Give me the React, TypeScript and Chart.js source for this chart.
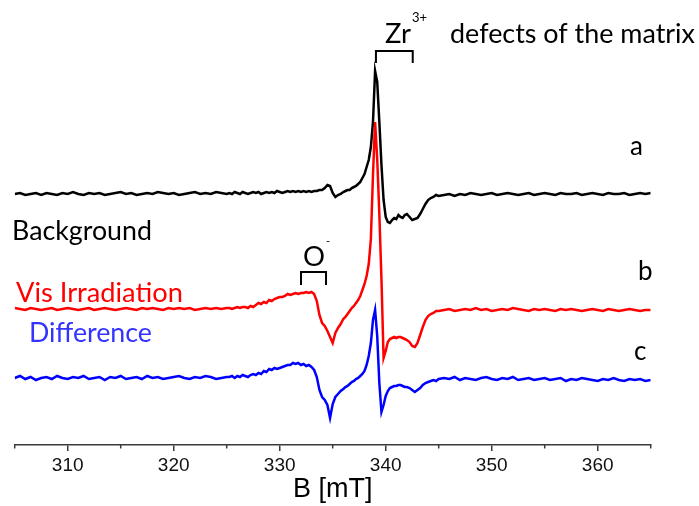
import { useEffect, useRef } from 'react';
import { Chart, registerables } from 'chart.js';

Chart.register(...registerables);

// Magnetic field B [mT]
const fieldB = [
  305, 305.5, 306, 306.5, 307, 307.5, 308, 308.5, 309, 309.5,
  310, 310.5, 311, 311.5, 312, 312.5, 313, 313.5, 314, 314.5,
  315, 315.5, 316, 316.5, 317, 317.5, 318, 318.5, 319, 319.5,
  320, 320.5, 321, 321.5, 322, 322.5, 323, 323.5, 324, 324.5,
  325,
  325.25, 325.5, 325.75, 326, 326.25, 326.5, 326.75, 327, 327.25, 327.5,
  327.75, 328, 328.25, 328.5, 328.75, 329, 329.25, 329.5, 329.75, 330,
  330.25, 330.5, 330.75, 331, 331.25, 331.5, 331.75, 332, 332.25, 332.5,
  332.75, 333, 333.25, 333.5, 333.75, 334, 334.25, 334.5, 334.75, 335,
  335.25, 335.5, 335.75, 336,
  336.2, 336.4, 336.6, 336.8, 337, 337.2, 337.4, 337.6, 337.8, 338,
  338.2, 338.4, 338.6, 338.8, 339, 339.2, 339.4, 339.6, 339.8, 340,
  340.2, 340.4, 340.6, 340.8, 341, 341.2, 341.4, 341.6, 341.8, 342,
  342.25, 342.5, 342.75, 343, 343.25, 343.5, 343.75, 344, 344.25, 344.5, 344.75, 345,
  345.5, 346, 346.5, 347, 347.5, 348, 348.5, 349, 349.5, 350,
  350.5, 351, 351.5, 352, 352.5, 353, 353.5, 354, 354.5, 355,
  355.5, 356, 356.5, 357, 357.5, 358, 358.5, 359, 359.5, 360,
  360.5, 361, 361.5, 362, 362.5, 363, 363.5, 364, 364.5, 365,
];

// EPR signal (a.u.), relative to each trace's own baseline
const backgroundSignal = [
  0, 1, -1, 0, 1, -1, 1, 0, -1, 1,
  0, 2, 0, -1, 1, 0, 1, -1, 0, 1,
  2, 0, 1, -1, 0, 1, 0, 2, 1, 0,
  1, -1, 0, 1, 2, 0, 1, 0, 2, 1,
  0,
  1, 0, 2, 1, 0, 2, 1, 0, 1, 2,
  1, 2, 0, 1, 2, 1, 2, 1, 3, 2,
  1, 2, 3, 2, 3, 2, 3, 2, 3, 2,
  3, 2, 3, 3, 4, 4, 6, 9, 8, 1,
  -3, -1, 0, 2,
  3, 4, 4, 6, 7, 8, 10, 12, 16, 20,
  27, 34, 47, 72, 123, 112, 72, 29, -6, -23,
  -28, -29, -26, -24, -25, -21, -23, -24, -21, -20,
  -23, -26, -25, -24, -20, -15, -10, -6, -4, -3, -1, -2,
  -1, 0, -2, 0, -1, 1, 0, -1, 0, 1,
  -1, 0, 1, 0, -1, 0, 1, -1, 0, 1,
  0, -1, 1, 0, 0, 1, -1, 0, 1, 0,
  -1, 1, 0, 0, 1, -1, 0, 1, 0, 1,
];

const visSignal = [
  1, 0, -1, 1, 0, -1, 0, 1, -1, 0,
  1, 0, -1, 0, 1, -1, 0, 1, 0, -1,
  0, 1, 0, -1, 1, 0, 1, 0, -1, 1,
  0, 1, 0, 1, -1, 0, 1, 0, 1, 0,
  1,
  1, 0, 1, 2, 1, 2, 2, 1, 3, 2,
  4, 6, 5, 7, 6, 9, 8, 10, 11, 12,
  12, 13, 15, 14, 15, 16, 15, 16, 16, 17,
  16, 17, 15, 8, -6, -14, -17, -22, -28, -34,
  -24, -19, -15, -10,
  -8, -5, -2, 1, 3, 6, 9, 13, 19, 25,
  33, 45, 70, 134, 187, 150, 95, 30, -49, -42,
  -33, -30, -29, -28, -29, -28, -28, -29, -30, -31,
  -33, -37, -38, -34, -26, -18, -11, -7, -5, -4, -2, -2,
  -1, 0, -2, -1, 0, -1, 1, -1, 0, -2,
  -1, 0, -1, 1, 0, -1, -2, 0, -1, 0,
  -1, -2, 0, -1, 0, -1, -2, -1, 0, -1,
  -2, 0, -1, -2, -1, 0, -1, -2, -1, -1,
];

const differenceSignal = [
  0, 2, -1, 1, -2, 0, 1, -1, 2, 0,
  -1, 1, 0, 2, -1, 0, 1, -2, 1, 0,
  2, -1, 0, 1, -1, 2, 0, 1, -1, 0,
  1, 2, 0, -1, 1, 0, 2, 1, -1, 0,
  1,
  1, 2, 0, 2, 1, 3, 2, 1, 3, 4,
  3, 5, 4, 7, 6, 9, 8, 10, 9, 10,
  11, 12, 13, 13, 15, 14, 15, 13, 14, 12,
  13, 11, 8, 1, -12, -19, -22, -27, -40, -26,
  -19, -16, -13, -11,
  -9, -8, -6, -4, -3, -1, 0, 2, 4, 7,
  13, 22, 35, 58, 68, 42, -5, -34, -27, -18,
  -13, -10, -9, -8, -8, -7, -7, -8, -9, -9,
  -10, -12, -14, -12, -10, -7, -5, -4, -3, -2, -3, -1,
  0, -1, 1, -2, 0, -1, -2, 0, 1, -1,
  -2, 0, -1, 1, -2, -1, 0, -2, -1, 0,
  -2, -1, 0, -3, -1, -2, 0, -1, -2, -3,
  -1, -2, 0, -2, -3, -1, -2, -1, -3, -2,
];

// vertical stacking offsets of the traces (a.u.)
const offsetA = 251;
const offsetB = 136;
const offsetC = 67;

const majorTicks = [310, 320, 330, 340, 350, 360];
const minorTicks = [305, 315, 325, 335, 345, 355, 365];

const AXIS_COLOR = '#3a3a3a';
const TEXT_FONT = 'Lato, "Open Sans", sans-serif';

type TextLabel = { text: string; b: number; v: number; color: string; width?: number; size: number };

const textLabels: TextLabel[] = [
  { text: 'Background', b: 304.75, v: 205, color: '#000000', width: 140, size: 26 },
  { text: 'Vis Irradiation', b: 305.12, v: 143, color: '#ff0000', width: 167, size: 26 },
  { text: 'Difference', b: 306.35, v: 103, color: '#3333ff', width: 123, size: 26 },
  { text: 'a', b: 363.05, v: 290, color: '#000000', size: 26 },
  { text: 'b', b: 363.8, v: 165, color: '#000000', size: 26 },
  { text: 'c', b: 363.43, v: 85, color: '#000000', size: 26 },
  { text: 'Zr', b: 339.93, v: 402, color: '#000000', width: 26, size: 28 },
  { text: '3+', b: 342.48, v: 423, color: '#000000', size: 13 },
  { text: 'defects of the matrix', b: 346.07, v: 402, color: '#000000', width: 245, size: 28 },
  { text: 'O', b: 332.2, v: 179, color: '#000000', width: 22, size: 28 },
  { text: '-', b: 334.37, v: 200, color: '#000000', size: 11 },
];

type Bracket = { b1: number; b2: number; top: number; bottom: number };
const brackets: Bracket[] = [
  { b1: 339.08, b2: 342.55, top: 394, bottom: 382 },
  { b1: 332.01, b2: 334.37, top: 173, bottom: 160 },
];

const annotationPlugin = {
  id: 'eprAnnotations',
  afterDraw(chart: any) {
    const { ctx } = chart;
    const xs = chart.scales.x;
    const ys = chart.scales.y;
    ctx.save();
    // minor ticks
    ctx.strokeStyle = AXIS_COLOR;
    ctx.lineWidth = 1.5;
    minorTicks.forEach((t) => {
      const px = xs.getPixelForValue(t);
      ctx.beginPath();
      ctx.moveTo(px, ys.bottom);
      ctx.lineTo(px, ys.bottom + 3.5);
      ctx.stroke();
    });
    // brackets
    ctx.strokeStyle = '#000000';
    ctx.lineWidth = 2;
    brackets.forEach((br) => {
      const x1 = xs.getPixelForValue(br.b1);
      const x2 = xs.getPixelForValue(br.b2);
      const yt = ys.getPixelForValue(br.top);
      const yb = ys.getPixelForValue(br.bottom);
      ctx.beginPath();
      ctx.moveTo(x1, yb);
      ctx.lineTo(x1, yt);
      ctx.lineTo(x2, yt);
      ctx.lineTo(x2, yb);
      ctx.stroke();
    });
    // texts
    ctx.textAlign = 'left';
    ctx.textBaseline = 'alphabetic';
    textLabels.forEach((t) => {
      let size = t.size;
      ctx.font = `${size}px ${TEXT_FONT}`;
      if (t.width) {
        const w = ctx.measureText(t.text).width;
        size = (size * t.width) / w;
        ctx.font = `${size}px ${TEXT_FONT}`;
      }
      ctx.fillStyle = t.color;
      ctx.fillText(t.text, xs.getPixelForValue(t.b), ys.getPixelForValue(t.v));
    });
    ctx.restore();
  },
};

export default function App() {
  const canvasRef = useRef<HTMLCanvasElement | null>(null);

  useEffect(() => {
    const canvas = canvasRef.current;
    if (!canvas) return;
    const toPoints = (sig: number[], off: number) =>
      fieldB.map((b, i) => ({ x: b, y: off + sig[i] }));

    const chart = new Chart(canvas, {
      type: 'line',
      data: {
        datasets: [
          {
            label: 'Difference',
            data: toPoints(differenceSignal, offsetC),
            borderColor: '#0000ff',
            borderWidth: 2.5,
            pointRadius: 0,
            tension: 0,
            fill: false,
          },
          {
            label: 'Vis Irradiation',
            data: toPoints(visSignal, offsetB),
            borderColor: '#ff0000',
            borderWidth: 2.5,
            pointRadius: 0,
            tension: 0,
            fill: false,
          },
          {
            label: 'Background',
            data: toPoints(backgroundSignal, offsetA),
            borderColor: '#000000',
            borderWidth: 2.5,
            pointRadius: 0,
            tension: 0,
            fill: false,
          },
        ],
      },
      options: {
        animation: false,
        responsive: false,
        devicePixelRatio: 1,
        layout: { padding: { left: 14.7, right: 48.3, top: 0, bottom: 0 } },
        plugins: {
          legend: { display: false },
          tooltip: { enabled: false },
        },
        scales: {
          x: {
            type: 'linear',
            position: 'bottom',
            min: 305,
            max: 365,
            afterBuildTicks: (scale: any) => {
              scale.ticks = majorTicks.map((v) => ({ value: v }));
            },
            afterFit: (scale: any) => {
              scale.height = 61;
            },
            border: { display: true, color: AXIS_COLOR, width: 1.5 },
            grid: {
              display: true,
              drawOnChartArea: false,
              drawTicks: true,
              tickLength: 6,
              color: AXIS_COLOR,
              lineWidth: 1.5,
            },
            ticks: {
              autoSkip: false,
              maxRotation: 0,
              padding: 3,
              color: '#111111',
              font: { family: '"Liberation Sans", Arial, sans-serif', size: 19 },
              callback: (v: any) => String(v),
            },
            title: {
              display: true,
              text: 'B [mT]',
              color: '#000000',
              font: { family: '"Liberation Sans", Arial, sans-serif', size: 27, lineHeight: 1 },
              padding: { top: 0, bottom: 3 },
            },
          },
          y: {
            display: false,
            min: 0,
            max: 445,
          },
        },
      },
      plugins: [annotationPlugin],
    });
    return () => chart.destroy();
  }, []);

  return (
    <div style={{ position: 'fixed', left: 0, top: 0, width: 699, height: 506, background: '#ffffff' }}>
      <canvas ref={canvasRef} width={699} height={506} style={{ display: 'block' }} />
    </div>
  );
}
